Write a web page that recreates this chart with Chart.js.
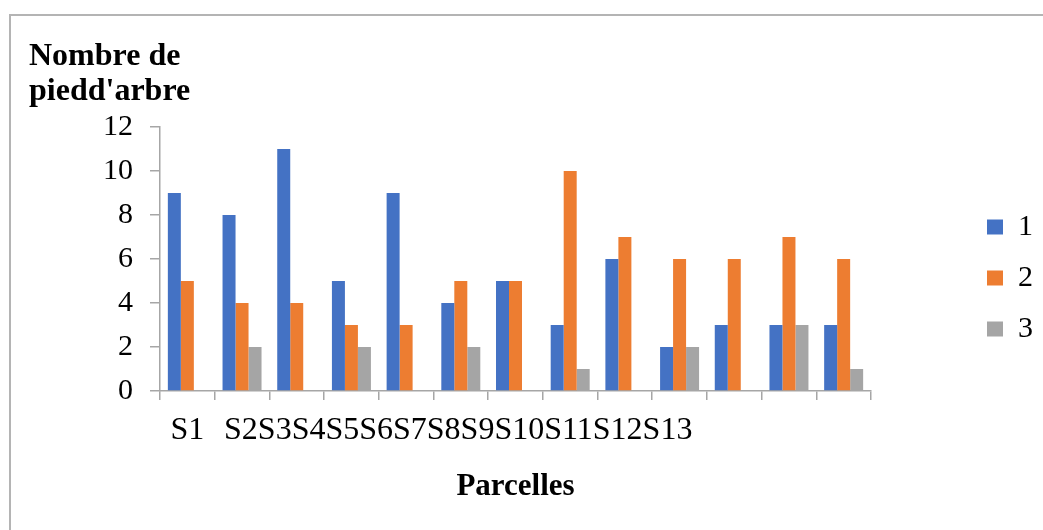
<!DOCTYPE html>
<html>
<head>
<meta charset="utf-8">
<script src="https://cdn.jsdelivr.net/npm/chart.js@4/dist/chart.umd.min.js"></script>
<style>
  html, body { margin: 0; padding: 0; background: #ffffff; overflow: hidden; }
  #frame { position: absolute; left: 9px; top: 14px; width: 1200px; height: 700px;
           border-left: 2px solid #b4b4b4; border-top: 2px solid #b4b4b4; }
  #c { position: absolute; left: 0; top: 0; }
</style>
</head>
<body>
<div id="frame"></div>
<canvas id="c" width="1043" height="530"></canvas>
<script>
// ---- data ----
const categories = ['S1','S2','S3','S4','S5','S6','S7','S8','S9','S10','S11','S12','S13'];
const seriesNames = ['1', '2', '3'];
const series1 = [9, 8, 11, 5, 9, 4, 5, 3, 6, 2, 3, 3, 3];
const series2 = [5, 4, 4, 3, 3, 5, 5, 10, 7, 6, 6, 7, 6];
const series3 = [0, 2, 0, 2, 0, 2, 0, 1, 0, 2, 0, 3, 1];
const yTicks = [0, 2, 4, 6, 8, 10, 12];
const yTitleLines = ['Nombre de', "piedd'arbre"];
const xTitle = 'Parcelles';

const FONT = "'Liberation Serif', 'Times New Roman', serif";
const AXIS = '#a6a6a6';

// draws the category labels the way the reference shows them (S1, then the rest run together)
const xLabelPlugin = {
  id: 'xLabels',
  afterDraw(chart) {
    const xs = chart.scales.x;
    const ctx = chart.ctx;
    ctx.save();
    ctx.font = '32px ' + FONT;
    ctx.fillStyle = '#000';
    ctx.textBaseline = 'alphabetic';
    const baseY = xs.top + 48;
    ctx.textAlign = 'center';
    ctx.fillText(categories[0], xs.getPixelForValue(0), baseY);
    ctx.textAlign = 'left';
    ctx.fillText(categories.slice(1).join(''), xs.getPixelForValue(1) - 18, baseY);
    ctx.restore();
  }
};

new Chart(document.getElementById('c'), {
  type: 'bar',
  data: {
    labels: categories,
    datasets: [
      { label: seriesNames[0], data: series1, backgroundColor: '#4472C4', borderWidth: 0 },
      { label: seriesNames[1], data: series2, backgroundColor: '#ED7D31', borderWidth: 0 },
      { label: seriesNames[2], data: series3, backgroundColor: '#A5A5A5', borderWidth: 0 }
    ]
  },
  plugins: [xLabelPlugin],
  options: {
    responsive: false,
    animation: false,
    devicePixelRatio: 1,
    categoryPercentage: 0.713,
    barPercentage: 1,
    layout: { padding: { left: 29, top: 36, right: 0, bottom: 10 } },
    plugins: {
      tooltip: { enabled: false },
      title: {
        display: true,
        text: yTitleLines,
        align: 'start',
        position: 'top',
        color: '#000',
        font: { family: FONT, size: 32, weight: 'bold', lineHeight: 35 / 32 },
        padding: { top: 3, bottom: 18 }
      },
      legend: {
        position: 'right',
        align: 'center',
        labels: {
          color: '#000',
          font: { family: FONT, size: 30 },
          boxWidth: 16,
          boxHeight: 15,
          padding: 21
        }
      }
    },
    scales: {
      x: {
        type: 'category',
        offset: true,
        grid: { display: true, offset: true, drawOnChartArea: false, drawTicks: true, tickLength: 9, color: AXIS, lineWidth: 1.5 },
        border: { display: true, color: AXIS, width: 1.5 },
        ticks: { display: false },
        title: {
          display: true,
          text: xTitle,
          color: '#000',
          font: { family: FONT, size: 31, weight: 'bold', lineHeight: 1 },
          padding: { top: 0, bottom: 18 }
        },
        afterFit(s) { s.height = 129; }
      },
      y: {
        type: 'linear',
        min: yTicks[0],
        max: yTicks[yTicks.length - 1],
        grid: { display: true, drawOnChartArea: false, drawTicks: true, tickLength: 10, color: AXIS, lineWidth: 1.5 },
        border: { display: true, color: AXIS, width: 1.5 },
        afterBuildTicks(s) { s.ticks = yTicks.map(v => ({ value: v })); },
        ticks: {
          color: '#000',
          font: { family: FONT, size: 30 },
          padding: 17
        },
        afterFit(s) { s.width = 131; }
      },
      spacer: {
        type: 'linear',
        position: 'right',
        display: true,
        grid: { display: false },
        border: { display: false },
        ticks: { display: false },
        afterFit(s) { s.width = 95; }
      }
    }
  }
});
</script>
</body>
</html>
